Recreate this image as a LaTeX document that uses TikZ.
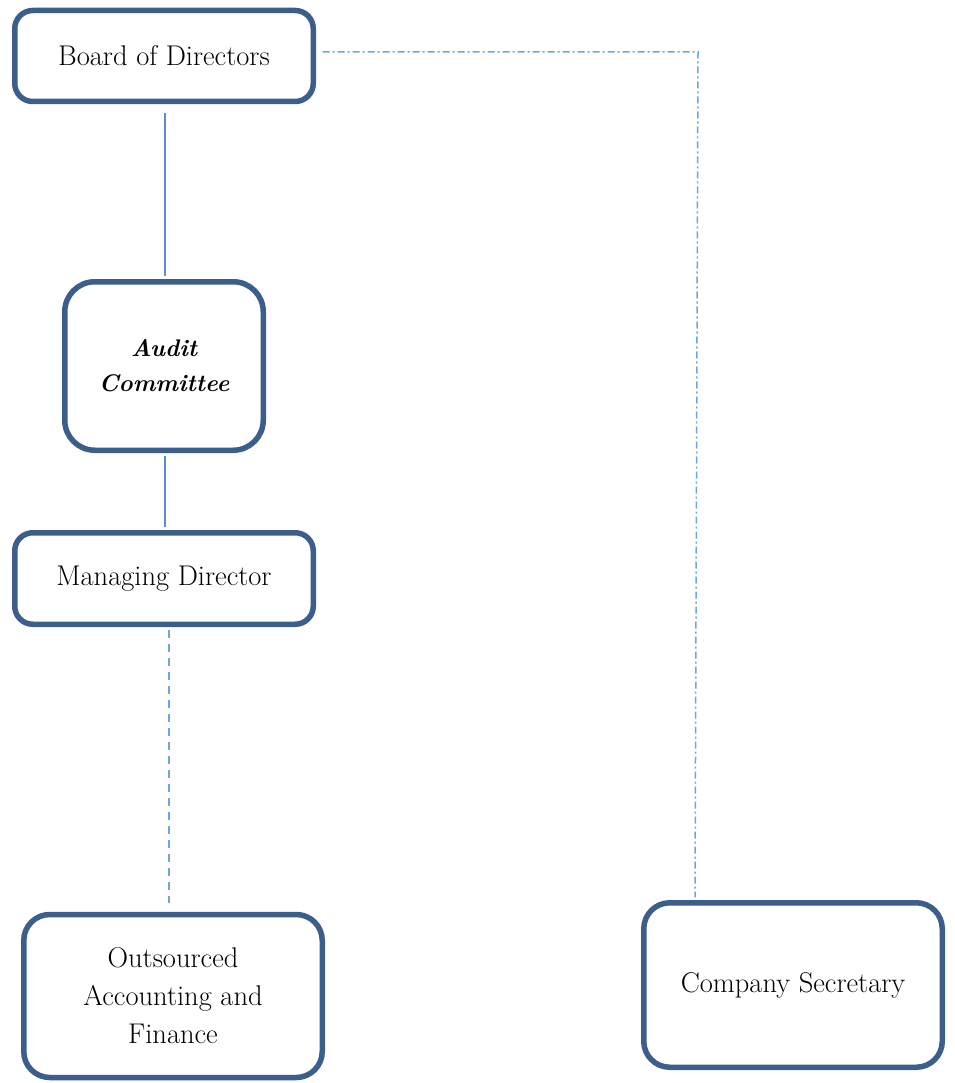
\documentclass[tikz,border=0pt]{standalone}
\usetikzlibrary{calc}
\definecolor{boxblue}{HTML}{3B5E8C}
\definecolor{lineblue}{HTML}{5B8FCB}
\definecolor{dashblue}{HTML}{6AA6E2}
\begin{document}
\begin{tikzpicture}[x=1pt,y=-1pt,
  orgbox/.style={draw=boxblue, line width=5.5pt, rounded corners=18pt, fill=white,
    inner sep=0pt, align=center, font=\fontsize{28.5}{38}\selectfont},
  solidlink/.style={draw=lineblue, line width=1.2pt},
  dashlink/.style={draw=dashblue, line width=2pt, dash pattern=on 8pt off 6pt},
  dashdotlink/.style={draw=dashblue, line width=1.5pt, dash pattern=on 7pt off 3pt on 2pt off 3pt}]
\useasboundingbox (0,0) rectangle (954,1083);
\node[orgbox, minimum width=298.5pt, minimum height=91pt] (board) at (164,56) {Board of Directors};
\node[orgbox, minimum width=198.5pt, minimum height=168.5pt, rounded corners=30pt,
  font=\fontsize{24}{35}\selectfont\bfseries\itshape] (audit) at (164,366) {Audit\\Committee};
\node[orgbox, minimum width=298.5pt, minimum height=91.5pt] (md) at (164,578.5) {Managing Director};
\node[orgbox, minimum width=298.5pt, minimum height=163pt, rounded corners=26pt] (out) at (173,996) {Outsourced\\Accounting and\\Finance};
\node[orgbox, minimum width=298.5pt, minimum height=164.5pt, rounded corners=26pt] (sec) at (793,985) {Company Secretary};
\coordinate (corner) at (698,52);
\draw[solidlink, shorten <=9pt] ($(board.south)+(1,0)$) -- ($(audit.north)+(1,-2.75)$);
\draw[solidlink] ($(audit.south)+(1,2.75)$) -- ($(md.north)+(1,-2.75)$);
\draw[dashlink] ($(md.south)+(4.5,2.75)$) -- ($(out.north)+(-4.5,-9)$);
\draw[dashdotlink] ($(board.east)+(6.5,-4)$) -- (corner) -- ($(sec.north)+(-98,-2.75)$);
\end{tikzpicture}
\end{document}
